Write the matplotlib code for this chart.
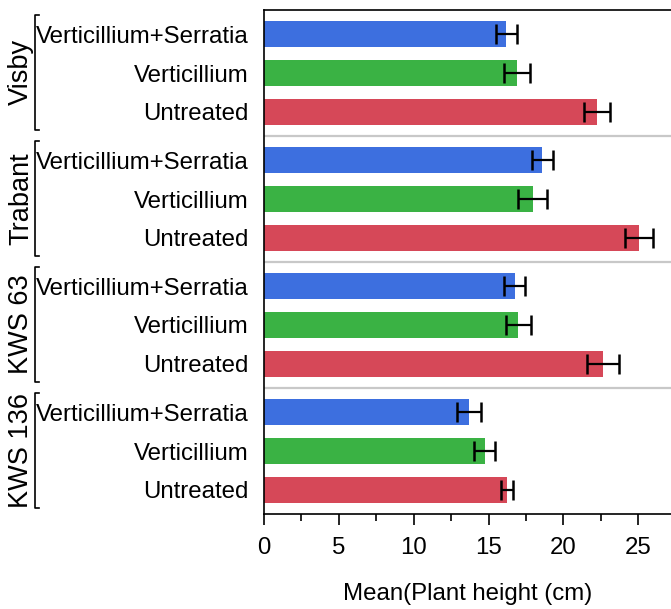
import matplotlib
matplotlib.use("Agg")
import matplotlib.pyplot as plt
from matplotlib.ticker import MultipleLocator
import numpy as np

plt.rcParams['font.family'] = ['Liberation Sans', 'DejaVu Sans']

groups = ["Visby", "Trabant", "KWS 63", "KWS 136"]
treatments = ["Verticillium+Serratia", "Verticillium", "Untreated"]
colors = ["#3D6FDF", "#3AB244", "#D64858"]

# mean plant height (cm), per group, per treatment (same order as treatments)
means = {
    "Visby":   [16.2, 16.9, 22.25],
    "Trabant": [18.6, 17.95, 25.05],
    "KWS 63":  [16.75, 17.0, 22.65],
    "KWS 136": [13.7, 14.75, 16.22],
}
errors = {
    "Visby":   [0.69, 0.88, 0.88],
    "Trabant": [0.70, 0.96, 0.95],
    "KWS 63":  [0.69, 0.81, 1.08],
    "KWS 136": [0.82, 0.70, 0.41],
}
xticks = [0, 5, 10, 15, 20, 25]

W, H = 671, 609
fig = plt.figure(figsize=(W / 100, H / 100), dpi=100)
ax_left, ax_right, ax_top, ax_bot = 264, 671, 10, 514
ax = fig.add_axes([ax_left / W, 1 - ax_bot / H, (ax_right - ax_left) / W, (ax_bot - ax_top) / H])

group_h = 3.244
margin = 0.622
bar_h = 0.685
fs = 17.3
gfs = 19.5

ypos, ylabels = [], []
for g, grp in enumerate(groups):
    for r, t in enumerate(treatments):
        y = g * group_h + margin + r
        ax.barh(y, means[grp][r], height=bar_h, color=colors[r], zorder=2)
        ax.errorbar(means[grp][r], y, xerr=errors[grp][r], fmt='none', ecolor='black',
                    elinewidth=1.6, capsize=7, capthick=1.8, zorder=3)
        ypos.append(y)
        ylabels.append(t)

total = group_h * len(groups)
ax.set_ylim(total, 0)
ax.set_xlim(0, 27.19)

for g in range(1, len(groups)):
    ax.axhline(g * group_h, color="#C8C8C8", lw=1.6, zorder=1)

ax.set_yticks(ypos)
ax.set_yticklabels(ylabels, fontsize=fs)
ax.tick_params(axis='y', length=0, pad=11)

ax.set_xticks(xticks)
ax.xaxis.set_minor_locator(MultipleLocator(2.5))
ax.tick_params(axis='x', which='major', length=8, width=1.2, labelsize=fs, pad=8.5)
ax.tick_params(axis='x', which='minor', length=5, width=1.2)
ax.set_xlabel("Mean(Plant height (cm)", fontsize=fs, labelpad=17)

for s in ['left', 'bottom', 'top']:
    ax.spines[s].set_color('black')
    ax.spines[s].set_linewidth(1.2)
ax.spines['right'].set_visible(False)

# group brackets and labels
bx = (35 - ax_left) / (ax_right - ax_left)
tx = (21 - ax_left) / (ax_right - ax_left)
tick = 4 / (ax_right - ax_left)
trans = matplotlib.transforms.blended_transform_factory(ax.transAxes, ax.transData)
for g, grp in enumerate(groups):
    y0 = g * group_h + 0.12
    y1 = (g + 1) * group_h - 0.15
    ax.plot([bx + tick, bx, bx, bx + tick], [y0, y0, y1, y1], color='black', lw=1.2,
            transform=trans, clip_on=False)
    ax.text(tx, (y0 + y1) / 2, grp, rotation=90, ha='center', va='center', fontsize=gfs,
            transform=trans)

fig.savefig("out.png", dpi=100)
